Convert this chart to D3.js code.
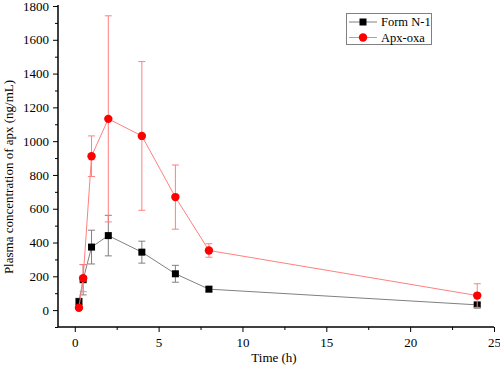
<!DOCTYPE html>
<html><head><meta charset="utf-8">
<script src="https://cdn.jsdelivr.net/npm/d3@7"></script>
<style>body{margin:0;background:#fff}svg{display:block}text{font-family:'Liberation Serif','Times New Roman',serif}</style>
</head><body>
<svg id="c" width="500" height="366"></svg>
<script>
const times = [0.25, 0.5, 1, 2, 4, 6, 8, 24];
const formN1 = [50, 180, 373, 441, 343, 215, 124, 31];
const formN1Err = [20, 90, 100, 120, 65, 50, 15, 10];
const apxOxa = [14, 189, 911, 1132, 1031, 669, 353, 86];
const apxOxaErr = [0, 80, 120, 610, 440, 190, 40, 70];
const xTicks = [0, 5, 10, 15, 20, 25];
const yTicks = [0, 200, 400, 600, 800, 1000, 1200, 1400, 1600, 1800];
const seriesNames = ["Form N-1", "Apx-oxa"];

const svg = d3.select("#c");
const font = "'Liberation Serif','Times New Roman',serif";
const x = d3.scaleLinear().domain([-1, 25]).range([58, 494]);
const y = d3.scaleLinear().domain([-100, 1800]).range([327, 6]);

// axes
const xAxis = d3.axisBottom(x).tickValues(xTicks).tickSize(5).tickPadding(6).tickFormat(d3.format("d"));
const gx = svg.append("g").attr("transform", "translate(0,327)").call(xAxis);
const gxm = svg.append("g").attr("transform", "translate(0,327)")
  .call(d3.axisBottom(x).tickValues(d3.range(2.5, 25, 5)).tickSize(3).tickFormat(""));
gxm.select(".domain").remove();
const yAxis = d3.axisLeft(y).tickValues(yTicks).tickSize(5).tickPadding(4).tickFormat(d3.format("d"));
const gy = svg.append("g").attr("transform", "translate(58,0)").call(yAxis);
const gym = svg.append("g").attr("transform", "translate(58,0)")
  .call(d3.axisLeft(y).tickValues(d3.range(-100, 1800, 200)).tickSize(3).tickFormat(""));
gym.select(".domain").remove();
[gx, gy].forEach(g => {
  g.attr("font-family", font).attr("font-size", 13);
  g.select(".domain").attr("stroke", "#000").attr("stroke-width", 1.5);
  g.selectAll("text").attr("font-family", font).attr("font-size", 13).attr("fill", "#000");
});
gx.select(".domain").attr("d", "M58,0H494");
gy.select(".domain").attr("d", "M0,5V327");
svg.selectAll(".tick line").attr("stroke", "#000").attr("stroke-width", 1);

// labels
svg.append("text").attr("x", 274).attr("y", 362).attr("text-anchor", "middle")
  .attr("font-family", font).attr("font-size", 13).text("Time (h)");
svg.append("text").attr("transform", "translate(13,177) rotate(-90)").attr("text-anchor", "middle")
  .attr("font-family", font).attr("font-size", 13).text("Plasma concentration of apx (ng/mL)");

function drawSeries(vals, errs, lineColor, errColor, markerColor, shape) {
  const data = times.map((t, i) => ({t, v: vals[i], e: errs[i]}));
  const g = svg.append("g");
  data.filter(d => d.e > 0).forEach(d => {
    const cx = x(d.t);
    g.append("line").attr("x1", cx).attr("x2", cx).attr("y1", y(d.v + d.e)).attr("y2", y(d.v - d.e))
      .attr("stroke", errColor).attr("stroke-width", 1);
    [d.v + d.e, d.v - d.e].forEach(v => g.append("line").attr("x1", cx - 3.5).attr("x2", cx + 3.5)
      .attr("y1", y(v)).attr("y2", y(v)).attr("stroke", errColor).attr("stroke-width", 1));
  });
  g.append("path").datum(data).attr("fill", "none").attr("stroke", lineColor).attr("stroke-width", 1)
    .attr("d", d3.line().x(d => x(d.t)).y(d => y(d.v)));
  data.forEach(d => {
    if (shape === "square") {
      g.append("rect").attr("x", x(d.t) - 3.5).attr("y", y(d.v) - 3.5).attr("width", 7).attr("height", 7)
        .attr("fill", markerColor);
    } else {
      g.append("circle").attr("cx", x(d.t)).attr("cy", y(d.v)).attr("r", 4.2).attr("fill", markerColor);
    }
  });
}
drawSeries(formN1, formN1Err, "#808080", "#808080", "#000", "square");
drawSeries(apxOxa, apxOxaErr, "#ff8080", "#ff8080", "#ff0000", "circle");

// legend
const lg = svg.append("g");
lg.append("rect").attr("x", 346.5).attr("y", 13.5).attr("width", 85).attr("height", 31)
  .attr("fill", "#fff").attr("stroke", "#808080").attr("stroke-width", 1);
const legendItems = [
  {name: seriesNames[0], line: "#808080", marker: "#000", shape: "square", yy: 22},
  {name: seriesNames[1], line: "#ff8080", marker: "#ff0000", shape: "circle", yy: 37.5}
];
legendItems.forEach(it => {
  lg.append("line").attr("x1", 349).attr("x2", 377).attr("y1", it.yy).attr("y2", it.yy)
    .attr("stroke", it.line).attr("stroke-width", 1);
  if (it.shape === "square") lg.append("rect").attr("x", 359.5).attr("y", it.yy - 3.5).attr("width", 7).attr("height", 7).attr("fill", it.marker);
  else lg.append("circle").attr("cx", 363).attr("cy", it.yy).attr("r", 4.2).attr("fill", it.marker);
  lg.append("text").attr("x", 381).attr("y", it.yy + 4).attr("font-family", font).attr("font-size", 12.5).text(it.name);
});
</script>
</body></html>
